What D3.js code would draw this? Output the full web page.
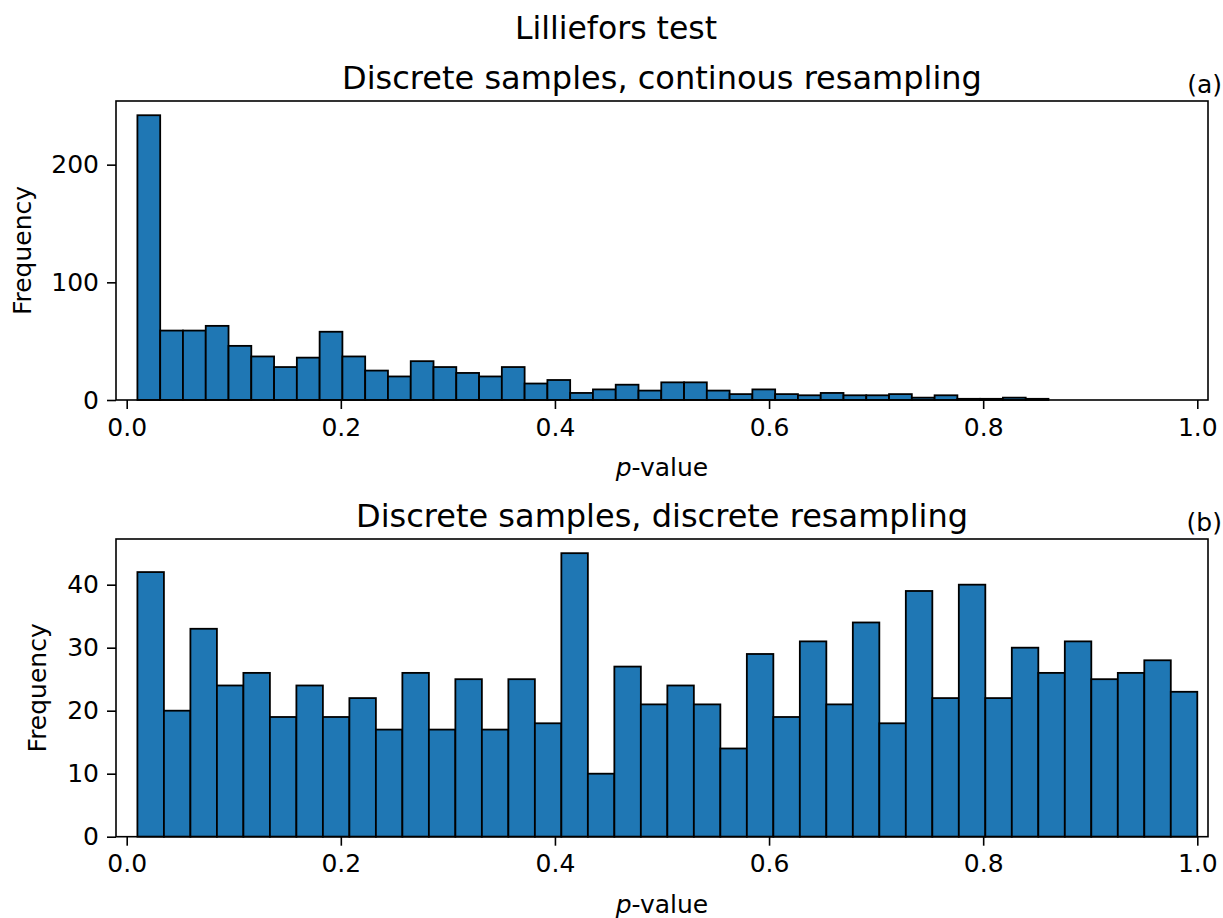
<!DOCTYPE html>
<html>
<head>
<meta charset="utf-8">
<script src="https://cdn.jsdelivr.net/npm/d3@7"></script>
<style>
  html, body { margin: 0; padding: 0; background: #fff; }
  svg text { font-family: "DejaVu Sans", sans-serif; fill: #000; }
</style>
</head>
<body>
<svg id="fig" width="1223" height="918"></svg>
<script>
// Histogram counts of Lilliefors p-values (40 equal-width bins each)
const continuousCounts = [242, 59, 59, 63, 46, 37, 28, 36, 58, 37,
                          25, 20, 33, 28, 23, 20, 28, 14, 17, 6,
                          9, 13, 8, 15, 15, 8, 5, 9, 5, 4,
                          6, 4, 4, 5, 2, 4, 1, 1, 2, 1];
const continuousRange = [0.01, 0.861];

const discreteCounts = [42, 20, 33, 24, 26, 19, 24, 19, 22, 17,
                        26, 17, 25, 17, 25, 18, 45, 10, 27, 21,
                        24, 21, 14, 29, 19, 31, 21, 34, 18, 39,
                        22, 40, 22, 30, 26, 31, 25, 26, 28, 23];
const discreteRange = [0.01, 1.0];

const xTicks = [0.0, 0.2, 0.4, 0.6, 0.8, 1.0];
const yTicksTop = [0, 100, 200];
const yTicksBottom = [0, 10, 20, 30, 40];

const panels = [
  { title: "Discrete samples, continous resampling", tag: "(a)",
    counts: continuousCounts, range: continuousRange, yTicks: yTicksTop,
    top: 101, bottom: 400, ylabelX: 31 },
  { title: "Discrete samples, discrete resampling", tag: "(b)",
    counts: discreteCounts, range: discreteRange, yTicks: yTicksBottom,
    top: 539, bottom: 836.7, ylabelX: 46 }
];

const svg = d3.select("#fig");
const left = 116, right = 1208;
const barColor = "#1f77b4";

svg.append("text")
  .attr("x", 616).attr("y", 39)
  .attr("text-anchor", "middle")
  .style("font-size", "31.5px")
  .text("Lilliefors test");

panels.forEach(p => {
  const n = p.counts.length;
  const w = (p.range[1] - p.range[0]) / n;
  const bins = p.counts.map((c, i) => ({
    x0: p.range[0] + i * w,
    x1: p.range[0] + (i + 1) * w,
    count: c
  }));

  const x = d3.scaleLinear().domain([-0.01, 1.01]).range([left, right]);
  const y = d3.scaleLinear().domain([0, d3.max(p.counts) * 1.05]).range([p.bottom, p.top]);

  const g = svg.append("g");

  g.selectAll("rect.bar").data(bins).enter().append("rect")
    .attr("class", "bar")
    .attr("x", d => x(d.x0))
    .attr("width", d => x(d.x1) - x(d.x0))
    .attr("y", d => y(d.count))
    .attr("height", d => y(0) - y(d.count))
    .attr("fill", barColor)
    .attr("stroke", "#000")
    .attr("stroke-width", 1.8);

  // frame
  g.append("rect")
    .attr("x", left).attr("y", p.top)
    .attr("width", right - left).attr("height", p.bottom - p.top)
    .attr("fill", "none").attr("stroke", "#000").attr("stroke-width", 1.6);

  // x axis
  const xAxis = d3.axisBottom(x).tickValues(xTicks).tickFormat(d3.format(".1f"))
    .tickSize(9).tickPadding(9);
  const xa = g.append("g").attr("transform", `translate(0,${p.bottom})`).call(xAxis);
  xa.select(".domain").remove();
  xa.selectAll(".tick line").attr("stroke", "#000").attr("stroke-width", 1.6);
  xa.selectAll(".tick text").style("font-size", "25px").attr("fill", "#000")
    .attr("font-family", "DejaVu Sans");

  // y axis
  const yAxis = d3.axisLeft(y).tickValues(p.yTicks).tickFormat(d3.format("d"))
    .tickSize(9).tickPadding(8);
  const ya = g.append("g").attr("transform", `translate(${left},0)`).call(yAxis);
  ya.select(".domain").remove();
  ya.selectAll(".tick line").attr("stroke", "#000").attr("stroke-width", 1.6);
  ya.selectAll(".tick text").style("font-size", "25px").attr("fill", "#000")
    .attr("font-family", "DejaVu Sans");

  // x label
  const xl = g.append("text")
    .attr("x", (left + right) / 2).attr("y", p.bottom + 76)
    .attr("text-anchor", "middle")
    .style("font-size", "25px");
  xl.append("tspan").style("font-style", "italic").text("p");
  xl.append("tspan").text("-value");

  // y label
  g.append("text")
    .attr("transform", `translate(${p.ylabelX},${(p.top + p.bottom) / 2}) rotate(-90)`)
    .attr("text-anchor", "middle")
    .style("font-size", "25px")
    .text("Frequency");

  // title
  g.append("text")
    .attr("x", (left + right) / 2).attr("y", p.top - 12)
    .attr("text-anchor", "middle")
    .style("font-size", "32px")
    .text(p.title);

  // panel tag
  g.append("text")
    .attr("x", 1222).attr("y", p.top - 8)
    .attr("text-anchor", "end")
    .style("font-size", "25px")
    .text(p.tag);
});
</script>
</body>
</html>
